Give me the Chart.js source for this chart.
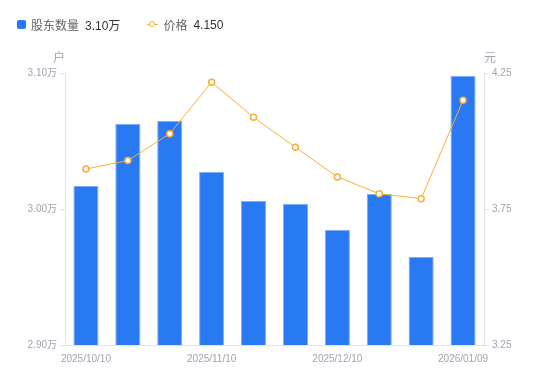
<!DOCTYPE html>
<html>
<head>
<meta charset="utf-8">
<script src="https://cdn.jsdelivr.net/npm/chart.js@4.4.1/dist/chart.umd.min.js"></script>
<style>
    body { margin: 0; background: #fff; font-family: "Liberation Sans", "Noto Sans CJK SC", sans-serif; }
    #wrap { position: relative; width: 550px; height: 381px; }
    #legend { position: absolute; left: 17px; top: 16px; font-size: 12px; display: flex; align-items: center; white-space: nowrap; }
    .item { display: flex; align-items: center; margin-right: 27px; }
    .name { color: #666; margin-right: 6px; }
    .val { color: #333; }
    .sq { width: 9px; height: 9px; border-radius: 2px; background: #2979F2; margin-right: 5px; }
    .ln { position: relative; width: 11px; height: 9px; margin-right: 5px; }
    .ln:before { content: ""; position: absolute; left: 0; right: 0; top: 4px; height: 1px; background: #F9AE3A; }
    .ln:after { content: ""; position: absolute; left: 2px; top: 1px; width: 4px; height: 4px; border: 1.5px solid #F9AE3A; border-radius: 50%; background: #fff; }
</style>
</head>
<body>
<div id="wrap">
    <canvas id="chart" width="550" height="381"></canvas>
    <div id="legend"></div>
</div>
<script>
const dates = ['2025/10/10', '2025/10/20', '2025/10/31', '2025/11/10', '2025/11/20', '2025/11/28',
    '2025/12/10', '2025/12/19', '2025/12/31', '2026/01/09'];
// 股东数量, 单位: 万户
const holders = [3.017, 3.0625, 3.0647, 3.0272, 3.0059, 3.0037, 2.9846, 3.011, 2.9647, 3.0978];
// 价格, 单位: 元
const prices = [3.897, 3.928, 4.027, 4.216, 4.087, 3.977, 3.868, 3.806, 3.788, 4.150];

const BAR_COLOR = '#2979F2';
const LINE_COLOR = '#F9AE3A';
const TICK_COLOR = '#a0a3b0';
const AXIS_COLOR = '#e4e4e8';
const FONT = '"Liberation Sans", "Noto Sans CJK SC", sans-serif';

document.getElementById('legend').innerHTML =
    `<span class="item"><span class="sq"></span><span class="name">股东数量</span><span class="val">${holders[holders.length - 1].toFixed(2)}万</span></span>` +
    `<span class="item"><span class="ln"></span><span class="name">价格</span><span class="val">${prices[prices.length - 1].toFixed(3)}</span></span>`;

const unitTitles = {
    id: 'unitTitles',
    afterDraw(chart) {
        const {ctx, chartArea} = chart;
        ctx.save();
        ctx.font = '12px ' + FONT;
        ctx.fillStyle = TICK_COLOR;
        ctx.textAlign = 'center';
        ctx.textBaseline = 'middle';
        ctx.fillText('户', chartArea.left - 6, chartArea.top - 14);
        ctx.fillText('元', chartArea.right + 6, chartArea.top - 14);
        ctx.restore();
    }
};

new Chart(document.getElementById('chart'), {
    data: {
        labels: dates,
        datasets: [
            {
                type: 'line',
                label: '价格',
                data: prices,
                yAxisID: 'y1',
                borderColor: LINE_COLOR,
                borderWidth: 1,
                tension: 0,
                pointRadius: 3,
                pointBorderWidth: 1.5,
                pointBackgroundColor: '#fff',
                pointBorderColor: LINE_COLOR,
                order: 0
            },
            {
                type: 'bar',
                label: '股东数量',
                data: holders,
                yAxisID: 'y',
                backgroundColor: BAR_COLOR,
                borderColor: '#7fb0f7',
                borderWidth: 1,
                categoryPercentage: 1,
                barPercentage: 0.6,
                order: 1
            }
        ]
    },
    options: {
        responsive: false,
        animation: false,
        layout: { padding: { top: 73, left: 0, right: 0, bottom: 0 } },
        plugins: { legend: { display: false }, tooltip: { enabled: false } },
        scales: {
            x: {
                grid: { display: false, drawTicks: false },
                border: { display: true, color: AXIS_COLOR },
                afterFit: (scale) => { scale.height = 36; },
                ticks: {
                    autoSkip: false,
                    maxRotation: 0,
                    padding: 8,
                    color: TICK_COLOR,
                    font: { size: 10, family: FONT },
                    callback: function(value, index) {
                        return index % 3 === 0 ? this.getLabelForValue(value) : '';
                    }
                }
            },
            y: {
                position: 'left',
                min: 2.9,
                max: 3.1,
                grid: { drawOnChartArea: false, drawTicks: true, tickLength: 5, color: AXIS_COLOR },
                border: { color: AXIS_COLOR },
                afterFit: (scale) => { scale.width = 65; },
                ticks: {
                    stepSize: 0.1,
                    padding: 3,
                    color: TICK_COLOR,
                    font: { size: 10, family: FONT },
                    callback: (v) => v.toFixed(2) + '万'
                }
            },
            y1: {
                position: 'right',
                min: 3.25,
                max: 4.25,
                grid: { drawOnChartArea: false, drawTicks: true, tickLength: 5, color: AXIS_COLOR },
                border: { color: AXIS_COLOR },
                afterFit: (scale) => { scale.width = 66; },
                ticks: {
                    stepSize: 0.5,
                    padding: 3,
                    color: TICK_COLOR,
                    font: { size: 10, family: FONT },
                    callback: (v) => v.toFixed(2)
                }
            }
        }
    },
    plugins: [unitTitles]
});
</script>
</body>
</html>
